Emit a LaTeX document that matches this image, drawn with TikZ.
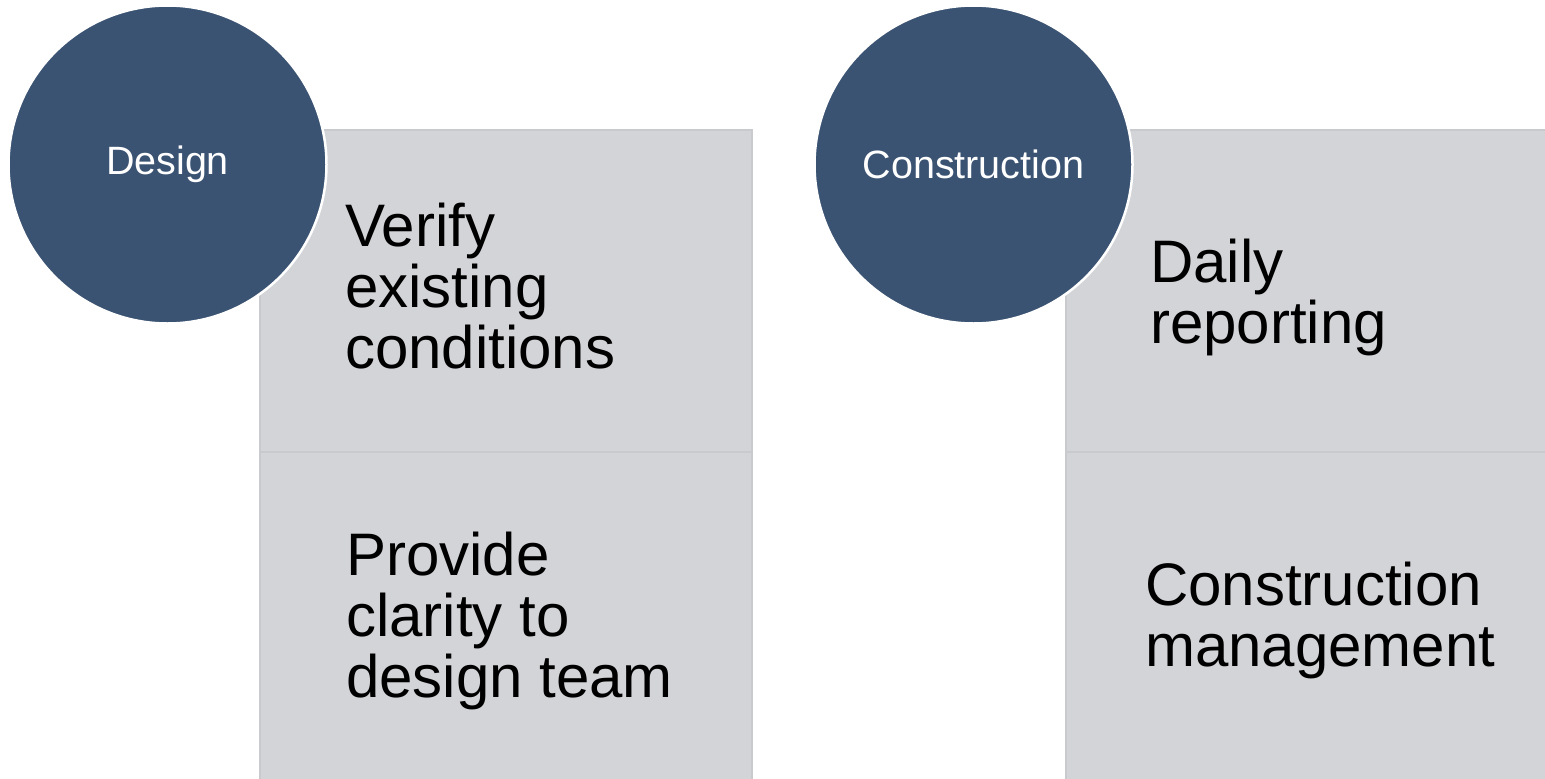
\documentclass[tikz,border=0pt]{standalone}
\usepackage{fontspec}
\setmainfont{Liberation Sans}
\definecolor{phasefill}{RGB}{58,83,114}
\definecolor{itemfill}{RGB}{211,212,216}
\definecolor{itemedge}{RGB}{201,202,206}
\begin{document}
\begin{tikzpicture}[x=1pt,y=-1pt,
  phase/.style={circle,fill=phasefill,draw=white,line width=2.5pt,minimum size=318pt,inner sep=0pt,
    text=white,font=\fontsize{39.5}{44}\selectfont},
  itembox/.style={fill=itemfill,draw=itemedge,line width=1.2pt},
  % base of a multi-line node sits on its last line
  itemtext/.style={anchor=base west,align=left,inner sep=0pt,text=black,
    font=\fontsize{60}{61}\selectfont}]
  \useasboundingbox (0,0) rectangle (1545,779);
  \fill[white] (0,0) rectangle (1545,779);

  % item boxes of the left column
  \draw[itembox] (260,130) rectangle (752,452);
  \draw[itembox] (260,452) rectangle (752,782);
  % item boxes of the right column
  \draw[itembox] (1066,130) rectangle (1558,452);
  \draw[itembox] (1066,452) rectangle (1558,782);

  % item texts
  \node[itemtext] (verify) at (345,368) {Verify\\existing\\conditions};
  \node[itemtext] (provide) at (346,697) {Provide\\clarity to\\design team};
  \node[itemtext] (daily) at (1150,343) {Daily\\reporting};
  \node[itemtext] (cm) at (1145,666) {Construction\\management};

  % phase circles
  \node[phase] (design) at (167.5,164.5) {Design};
  \node[phase] (construction) at (973.5,164.5) {Construction};
\end{tikzpicture}
\end{document}
